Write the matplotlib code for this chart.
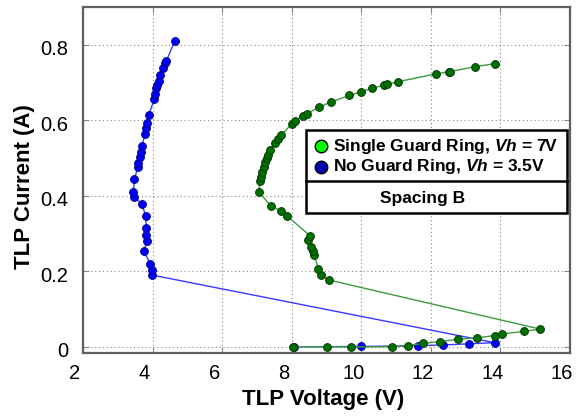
import matplotlib
matplotlib.use("Agg")
import matplotlib.pyplot as plt
import matplotlib.transforms as mtrans
from matplotlib.patches import Rectangle
from matplotlib.lines import Line2D

plt.rcParams['font.family'] = ['Liberation Sans', 'DejaVu Sans']
plt.rcParams['mathtext.fontset'] = 'custom'
plt.rcParams['mathtext.it'] = 'Liberation Sans:italic:bold'
plt.rcParams['mathtext.rm'] = 'Liberation Sans:bold'

# No Guard Ring (Vh = 3.5V)
ng_v = [8.07, 9.98, 11.64, 12.36, 13.10, 13.83,
        3.99, 3.97, 3.93, 3.75, 3.84, 3.82, 3.82, 3.80, 3.69, 3.46, 3.45, 3.48,
        3.57, 3.59, 3.63, 3.66, 3.69, 3.79, 3.81, 3.85, 3.89, 4.05, 4.08, 4.11,
        4.14, 4.18, 4.20, 4.31, 4.36, 4.40, 4.64]
ng_i = [0.000, 0.001, 0.003, 0.005, 0.008, 0.011,
        0.190, 0.204, 0.220, 0.254, 0.281, 0.297, 0.316, 0.347, 0.379, 0.398, 0.411, 0.444,
        0.475, 0.487, 0.504, 0.517, 0.532, 0.564, 0.579, 0.594, 0.614, 0.656, 0.670, 0.685,
        0.694, 0.705, 0.720, 0.738, 0.751, 0.758, 0.810]

# Single Guard Ring (Vh = 7V)
sg_v = [8.05, 9.01, 9.70, 10.87, 11.33, 11.77, 12.27, 12.78, 13.34, 13.84, 14.05, 14.67, 15.14,
        9.07, 8.84, 8.77, 8.65, 8.61, 8.56, 8.48, 8.53, 7.86, 7.68, 7.41, 7.05, 7.09, 7.12,
        7.16, 7.19, 7.23, 7.28, 7.32, 7.37, 7.52, 7.60, 7.70, 8.01, 8.10, 8.33, 8.43, 8.79,
        9.12, 9.66, 9.98, 10.31, 10.66, 10.74, 11.05, 12.15, 12.51, 12.55, 13.28, 13.84]
sg_i = [0.000, 0.000, 0.000, 0.000, 0.003, 0.009, 0.014, 0.020, 0.024, 0.030, 0.034, 0.041, 0.047,
        0.177, 0.190, 0.207, 0.242, 0.254, 0.264, 0.283, 0.294, 0.347, 0.361, 0.372, 0.411, 0.440, 0.451,
        0.464, 0.476, 0.489, 0.500, 0.509, 0.520, 0.540, 0.550, 0.561, 0.591, 0.597, 0.612, 0.617, 0.635,
        0.648, 0.666, 0.675, 0.685, 0.693, 0.695, 0.702, 0.723, 0.728, 0.729, 0.742, 0.750]

legend_labels = [r"Single Guard Ring, $\mathit{Vh}$ = 7V", r"No Guard Ring, $\mathit{Vh}$ = 3.5V"]
box_title = "Spacing B"
xticks = [2, 4, 6, 8, 10, 12, 14, 16]
yticks = [0, 0.2, 0.4, 0.6, 0.8]

W, H = 582, 416
fig = plt.figure(figsize=(W / 100, H / 100), dpi=100)
L, R, T, B = 83, 570, 7, 352.5
ax = fig.add_axes([L / W, (H - B) / H, (R - L) / W, (B - T) / H])

ax.plot(ng_v, ng_i, '-', color='#3a3aff', lw=1.0, marker='o', ms=5.6,
        mfc='#0000ff', mec='#00008a', mew=0.7, zorder=3)
ax.plot(sg_v, sg_i, '-', color='#3c9c3c', lw=1.0, marker='o', ms=5.6,
        mfc='#007000', mec='#003a00', mew=0.7, zorder=4)

ax.set_xlim(2, 16)
ax.set_ylim(-0.015, 0.9)
ax.set_xticks(xticks)
ax.set_yticks(yticks)
ax.set_yticklabels(['0' if v == 0 else f"{v:.1f}" for v in yticks])
ax.grid(True, linestyle=(0, (1, 2.5)), color='#888888', lw=0.8)
ax.tick_params(direction='in', length=4, color='#888888', top=True, right=True,
               labelsize=14.5)
ax.tick_params(axis='x', pad=8.5)
ax.tick_params(axis='y', pad=10.5)
for s in ax.spines.values():
    s.set_color('#606060')
    s.set_linewidth(1.6)

# shift tick labels slightly like the reference
xoff = mtrans.ScaledTranslation(-8 / 100, 0, fig.dpi_scale_trans)
for lab in ax.get_xticklabels():
    lab.set_transform(lab.get_transform() + xoff)
yoff = mtrans.ScaledTranslation(0, -3 / 100, fig.dpi_scale_trans)
for lab in ax.get_yticklabels():
    lab.set_transform(lab.get_transform() + yoff)

ax.set_xlabel("TLP Voltage (V)", fontsize=16, fontweight='bold', va='center', ha='center')
ax.xaxis.set_label_coords((323.5 - L) / (R - L), (B - 400) / (B - T))
ax.set_ylabel("TLP Current (A)", fontsize=16, fontweight='bold', va='center', ha='center')
ax.yaxis.set_label_coords((25 - L) / (R - L), (B - 187) / (B - T))

# legend box drawn in figure pixel coordinates
def fx(px):
    return px / W

def fy(py):
    return (H - py) / H

bx0, bx1, by0, bsep, by1 = 306, 567, 130, 181, 213
fig.patches.append(Rectangle((fx(bx0), fy(by1)), fx(bx1) - fx(bx0), fy(by0) - fy(by1),
                             transform=fig.transFigure, fill=True, facecolor='white',
                             edgecolor='black', lw=1.8, zorder=10))
fig.lines.append(Line2D([fx(bx0), fx(bx1)], [fy(bsep), fy(bsep)], transform=fig.transFigure,
                        color='black', lw=1.8, zorder=11))
mk_colors = ['#00ff00', '#0000b0']
rows = [146, 167]
for lab, c, ry in zip(legend_labels, mk_colors, rows):
    fig.lines.append(Line2D([fx(321)], [fy(ry)], transform=fig.transFigure, marker='o',
                            ms=9, mfc=c, mec='black', mew=1.0, ls='none', zorder=12))
    fig.text(fx(333), fy(ry), lab, fontsize=12.5, fontweight='bold', va='center',
             ha='left', zorder=12)
fig.text(fx(423), fy(198), box_title, fontsize=12.5, fontweight='bold', va='center',
         ha='center', zorder=12)

fig.savefig("out.png", dpi=100)
